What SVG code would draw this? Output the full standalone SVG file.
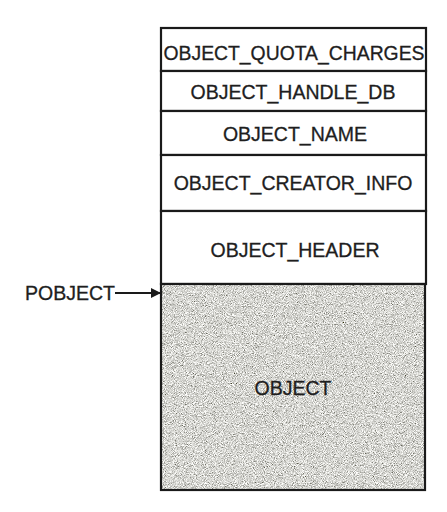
<svg xmlns="http://www.w3.org/2000/svg" width="447" height="512" viewBox="0 0 447 512">
  <defs>
    <style>
      .box { fill: #ffffff; stroke: #1a1a1a; stroke-width: 2.2; }
      .lbl { font-family: "Liberation Sans", Arial, sans-serif; font-size: 19.5px; fill: #1e1e1e; text-anchor: middle; dominant-baseline: central; stroke: #1e1e1e; stroke-width: 0.3; }
      .conn { stroke: #1a1a1a; stroke-width: 2; fill: none; }
    </style>
    <filter id="grain" x="0" y="0" width="100%" height="100%">
      <feTurbulence type="fractalNoise" baseFrequency="1.1" numOctaves="2" seed="7" result="n"/>
      <feColorMatrix in="n" type="matrix" values="1.6 0 0 0 -0.13  1.6 0 0 0 -0.13  1.6 0 0 0 -0.16  0 0 0 0 1" result="g"/>
      <feComposite in="g" in2="SourceGraphic" operator="in"/>
    </filter>
    <marker id="arrow" markerWidth="10" markerHeight="10" refX="9" refY="5" orient="auto" markerUnits="userSpaceOnUse">
      <path d="M0,0 L10,5 L0,10 Z" fill="#1a1a1a"/>
    </marker>
  </defs>
  <rect width="447" height="512" fill="#ffffff"/>
  <g id="quota">
    <rect class="box" x="161" y="28" width="265" height="43"/>
    <text class="lbl" x="294" y="53" textLength="261" lengthAdjust="spacingAndGlyphs">OBJECT_QUOTA_CHARGES</text>
  </g>
  <g id="handle">
    <rect class="box" x="161" y="71" width="265" height="40"/>
    <text class="lbl" x="293" y="92">OBJECT_HANDLE_DB</text>
  </g>
  <g id="name">
    <rect class="box" x="161" y="111" width="265" height="44"/>
    <text class="lbl" x="295" y="134">OBJECT_NAME</text>
  </g>
  <g id="creator">
    <rect class="box" x="161" y="155" width="265" height="56"/>
    <text class="lbl" x="293" y="183">OBJECT_CREATOR_INFO</text>
  </g>
  <g id="header">
    <rect class="box" x="161" y="211" width="265" height="73"/>
    <text class="lbl" x="295" y="250">OBJECT_HEADER</text>
  </g>
  <g id="object">
    <rect x="161" y="284" width="264" height="206" fill="#b0b0aa" filter="url(#grain)"/>
    <rect x="161" y="284" width="264" height="206" fill="none" stroke="#1a1a1a" stroke-width="2.2"/>
    <text class="lbl" x="293" y="388">OBJECT</text>
  </g>
  <g id="pobject">
    <text class="lbl" x="25" y="293" style="text-anchor:start">POBJECT</text>
  </g>
  <g id="connectors">
    <line class="conn" x1="115" y1="293" x2="160" y2="293" marker-end="url(#arrow)"/>
  </g>
</svg>
